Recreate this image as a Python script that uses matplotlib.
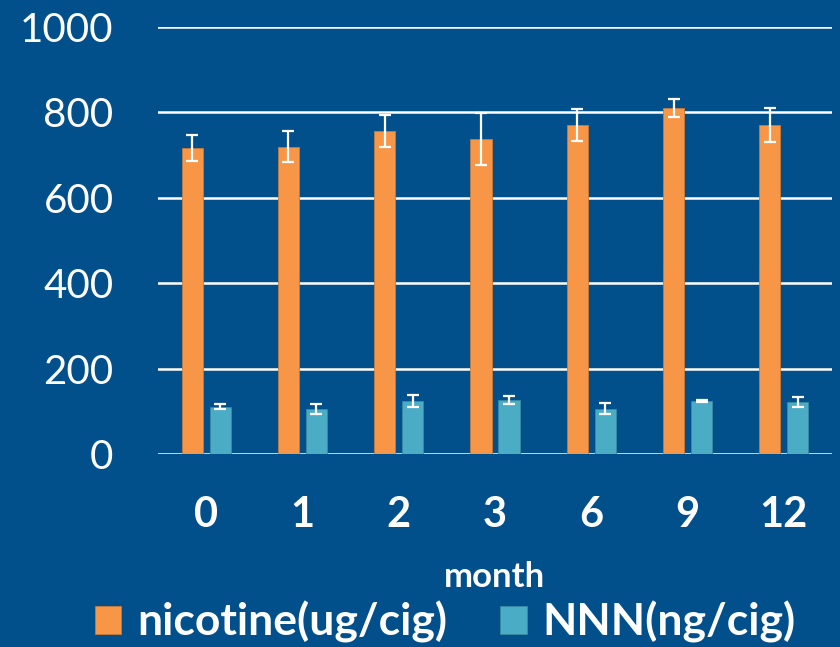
import matplotlib.pyplot as plt
import numpy as np

months = ["0", "1", "2", "3", "6", "9", "12"]
nicotine = [716, 720, 757, 738, 770, 811, 770]
nicotine_err = [30, 36, 38, 61, 38, 21, 40]
nnn = [111, 105, 125, 126, 106, 124, 122]
nnn_err = [5, 11, 14, 9, 13, 2, 12]
y_ticks = [0, 200, 400, 600, 800, 1000]

BG = "#02508b"
ORANGE = "#f79646"
TEAL = "#4bacc6"

plt.rcParams["font.family"] = ["Lato", "DejaVu Sans"]

fig = plt.figure(figsize=(8.4, 6.47), dpi=100, facecolor=BG)
ax = fig.add_axes([158 / 840, 193 / 647, 674 / 840, 427 / 647], facecolor=BG)

x = np.arange(len(months))
width = 0.22
off = 0.145
err_kw = dict(ecolor="white", elinewidth=1.6, capsize=4.5, capthick=1.6)
ax.bar(x - off, nicotine, width, yerr=nicotine_err, color=ORANGE,
       edgecolor="#c97a3a", linewidth=0.6, error_kw=err_kw, zorder=3,
       label="nicotine(ug/cig)")
ax.bar(x + off, nnn, width, yerr=nnn_err, color=TEAL,
       edgecolor="#3a8aa3", linewidth=0.6, error_kw=err_kw, zorder=3,
       label="NNN(ng/cig)")

ax.set_xlim(-0.5, len(months) - 0.5)
ax.set_ylim(0, 1000)
ax.set_yticks(y_ticks)
ax.set_xticks(x)
ax.set_xticklabels(months, fontsize=30, fontweight="bold", color="white")
ax.tick_params(axis="y", labelsize=29, colors="white", length=0, pad=32)
ax.tick_params(axis="x", length=0, pad=30)
ax.grid(axis="y", color="white", linewidth=1.8, zorder=0)
for s in ax.spines.values():
    s.set_visible(False)

fig.text(0.5 + 0.5 * 158 / 840 - 0.5 * 8 / 840, (647 - 587) / 647, "month",
         fontsize=25, fontweight="bold", color="white",
         ha="center", va="baseline")

leg = fig.legend(loc="center", bbox_to_anchor=(0.53, 0.038), ncol=2,
                 frameon=False, fontsize=32, handlelength=0.6, handleheight=0.6,
                 columnspacing=1.2, handletextpad=0.35, borderpad=0)
for t in leg.get_texts():
    t.set_color("white")
    t.set_fontweight("bold")

fig.savefig("out.png", dpi=100, facecolor=BG)
